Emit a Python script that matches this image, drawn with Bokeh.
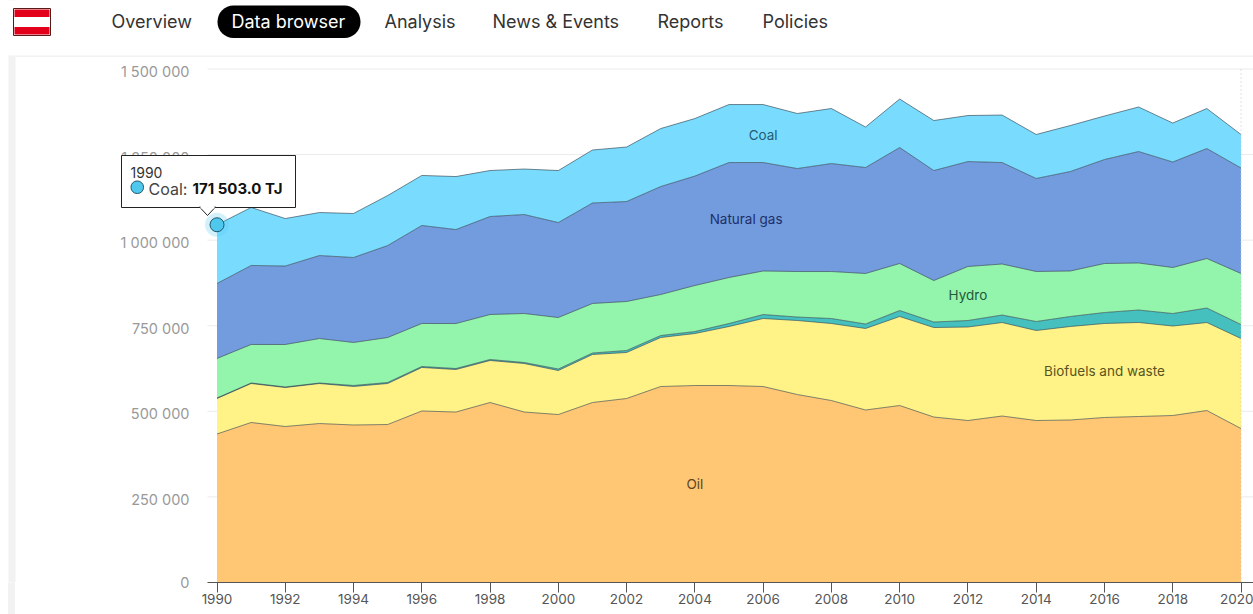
from bokeh.plotting import figure
from bokeh.embed import file_html
from bokeh.resources import INLINE
from bokeh.core.properties import value
from bokeh.models import (ColumnDataSource, FixedTicker, Label, BoxAnnotation, PolyAnnotation, LinearAxis, Range1d)

years = list(range(1990, 2021))
oil = [433.8,467.4,455.7,464.4,460.1,461.5,501.0,498.0,525.8,498.0,490.7,525.8,537.5,572.5,575.4,575.4,572.5,549.1,531.6,503.9,517.0,483.4,473.2,486.3,473.2,474.7,482.0,484.9,487.8,502.4,449.8]
biofuels = [103.7,113.9,113.9,116.8,112.5,119.8,127.1,124.1,122.7,141.7,128.5,140.2,134.4,143.1,151.9,172.3,198.6,216.2,224.9,238.1,260.0,261.4,273.1,273.1,262.9,273.1,274.6,274.6,261.4,257.0,262.9]
other = [1.5,1.5,1.5,1.5,2.9,2.9,2.9,2.9,2.9,2.9,4.4,4.4,5.8,5.8,5.8,8.8,11.7,10.2,14.6,13.1,17.5,16.1,19.0,21.9,26.3,29.2,32.1,36.5,36.5,42.4,40.9]
hydro = [115.4,112.5,124.1,130.0,125.6,131.4,125.6,131.4,131.4,143.1,150.4,144.6,143.1,119.8,134.4,134.4,127.1,132.9,137.3,147.5,137.3,121.2,157.7,149.0,146.1,132.9,143.1,137.3,134.4,144.6,149.0]
gas = [219.1,230.8,229.3,242.4,248.3,268.7,286.3,274.6,286.3,289.2,277.5,293.6,292.1,315.5,319.8,335.9,316.9,300.9,315.5,309.6,338.8,321.3,306.7,296.5,271.7,290.6,303.8,325.7,308.2,321.3,308.2]
coal = [171.5,169.4,138.7,125.6,128.5,146.1,146.1,154.8,134.4,132.9,151.9,154.8,159.2,169.4,168.0,169.4,169.4,160.7,160.7,118.3,141.7,146.1,134.4,138.7,128.5,134.4,127.1,130.0,113.9,116.8,97.9]

series = ["oil", "biofuels", "other", "hydro", "gas", "coal"]
colors = ["#FFC46E", "#FFF383", "#3DBDBB", "#8FF5A9", "#6C98DC", "#74DBFF"]
y_ticks = [0, 250, 500, 750, 1000, 1250, 1500]
y_labels = ["0", "250 000", "500 000", "750 000", "1 000 000", "1 250 000", "1 500 000"]
x_ticks = list(range(1990, 2021, 2))

area_names = ["Oil", "Biofuels and waste", "Hydro", "Natural gas", "Coal"]
area_x = [2004.0, 2016.0, 2012.0, 2005.5, 2006.0]
area_y = [289, 619, 841, 1063, 1306]
area_colors = ["#5b4520", "#5a5320", "#24583a", "#1f2f6a", "#1f5d75"]

nav_items = ["Overview", "Data browser", "Analysis", "News & Events", "Reports", "Policies"]
nav_x = [111, 231, 384, 492, 657, 762]

FONT = "Inter"
X0, X1 = 1983.657, 2020.366
Y1 = 1700.1
LEFT_PLOT_EDGE = 1989.72
source = ColumnDataSource(dict(year=years, oil=oil, biofuels=biofuels, other=other, hydro=hydro, gas=gas, coal=coal))

p = figure(width=1253, height=614, output_backend="svg", toolbar_location=None,
           frame_width=1253, frame_height=582,
           x_range=(X0, X1), y_range=(0, Y1), y_axis_location=None,
           min_border_left=0, min_border_right=0, min_border_top=0, min_border_bottom=32,
           outline_line_color=None, background_fill_color="white", border_fill_color=None,
           styles={"background": "linear-gradient(to right,#fff 8px,#f2f2f2 8px,#f2f2f2 15px,#fff 15px)"})
p.grid.visible = False

# grid lines, drawn by hand so that they stop at the plot's left edge
p.segment(x0=[LEFT_PLOT_EDGE]*len(y_ticks), x1=[X1]*len(y_ticks), y0=y_ticks, y1=y_ticks,
          line_color="#ebebeb", line_width=1)

p.varea_stack(series, x="year", source=source, color=colors, alpha=0.96)
p.vline_stack(series, x="year", source=source, color="#2b3a45", alpha=0.6, line_width=1)


def y_axis(ticks, **kw):
    ax = LinearAxis(ticker=FixedTicker(ticks=ticks), major_label_overrides=dict(zip(y_ticks, y_labels)), **kw)
    ax.axis_line_color = None
    ax.major_tick_line_color = None
    ax.minor_tick_line_color = None
    ax.major_label_standoff = -195
    ax.major_label_text_color = "#999999"
    ax.major_label_text_font = FONT
    ax.major_label_text_font_size = "14.5px"
    p.add_layout(ax, "left")


# labels sit 2.5px below their grid lines in the reference; the zero label stays on the main range
p.extra_y_ranges["labels"] = Range1d(7.3, Y1 + 7.3)
y_axis(y_ticks[1:], y_range_name="labels")
y_axis(y_ticks[:1])

xa = p.xaxis[0]
xa.ticker = FixedTicker(ticks=x_ticks)
xa.bounds = (LEFT_PLOT_EDGE, X1)
xa.axis_line_color = "#555555"
xa.major_tick_line_color = "#555555"
xa.major_tick_in = 0
xa.major_tick_out = 10
xa.minor_tick_line_color = None
xa.major_label_standoff = 1
xa.major_label_text_color = "#555555"
xa.major_label_text_font = FONT
xa.major_label_text_font_size = "13.5px"
xa.major_label_overrides = {t: str(t) for t in x_ticks}

p.segment(x0=[2020], x1=[2020], y0=[0], y1=[1500], line_color="#c4c4c4", line_dash="1 3", line_width=1)

p.text(x=area_x, y=area_y, text=area_names, text_color=area_colors, text_font=value(FONT),
       text_font_size="13.5px", text_align="center", text_baseline="middle")

# highlighted point
total_1990 = oil[0]+biofuels[0]+other[0]+hydro[0]+gas[0]+coal[0]
p.scatter(x=[1990], y=[total_1990], size=24, color="#4FC8EE", alpha=0.25, line_color=None)
p.scatter(x=[1990], y=[total_1990], size=14, fill_color="#4FC8EE", line_color="#22566b", line_width=1)


def box(l, t, r, b, **kw):
    kw.setdefault("line_alpha", 1)
    p.add_layout(BoxAnnotation(left=l, right=r, top=t, bottom=b,
                               left_units="canvas", right_units="canvas", top_units="canvas", bottom_units="canvas",
                               **kw))


def label(x, y, text, **kw):
    kw.setdefault("text_font", FONT)
    kw.setdefault("text_baseline", "middle")
    p.add_layout(Label(x=x, y=y, x_units="canvas", y_units="canvas", text=text, **kw))


# page furniture
box(8, 55, 1253, 56.5, fill_color="#f2f2f2", fill_alpha=1, line_color=None)
box(8, 56, 15, 582, fill_color="#f2f2f2", fill_alpha=1, line_color=None)

box(13, 8, 50, 35, fill_color="#ffffff", fill_alpha=1, line_color="#5a1a1a", line_width=1)
box(14, 9, 49, 16.5, fill_color="#e2001a", fill_alpha=1, line_color=None)
box(14, 26.5, 49, 34, fill_color="#e2001a", fill_alpha=1, line_color=None)

box(217, 5, 360, 37.5, fill_color="#000000", fill_alpha=1, line_color=None, border_radius=16)
for name, nx in zip(nav_items, nav_x):
    label(nx, 20.5, name, text_font_size="18px", text_color="#ffffff" if name == "Data browser" else "#333333")

# tooltip
box(121, 155, 295, 207, fill_color="#ffffff", fill_alpha=1, line_color="#222222", line_width=1)
p.add_layout(PolyAnnotation(xs=[199, 207, 215], ys=[206.5, 215, 206.5],
                            xs_units="canvas", ys_units="canvas",
                            fill_color="#ffffff", fill_alpha=1, line_color="#222222", line_alpha=1, line_width=1))
box(200, 205, 214, 208, fill_color="#ffffff", fill_alpha=1, line_color=None)
box(130.5, 180.5, 143, 193, fill_color="#4FC8EE", fill_alpha=1, line_color="#22566b", line_width=1, border_radius=6)
label(130, 172, "1990", text_font_size="14px", text_color="#333333")
label(148, 188, "Coal:", text_font_size="16px", text_color="#444444")
label(192, 188, "171 503.0 TJ", text_font_size="15px", text_font_style="bold", text_color="#111111")

open("out.html", "w").write(file_html(p, INLINE))
